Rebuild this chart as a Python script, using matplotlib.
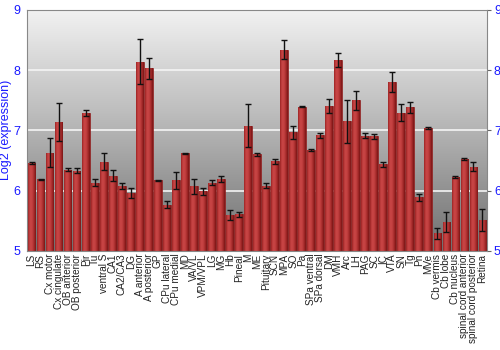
import numpy as np
import matplotlib
matplotlib.use("Agg")
import matplotlib.pyplot as plt
from matplotlib.colors import LinearSegmentedColormap

categories = ["LS", "RS", "Cx motor", "Cx cingulate", "OB anterior", "OB posterior", "Pir", "Tu",
              "ventral S", "CA1", "CA2/CA3", "DG", "A anterior", "A posterior", "GP", "CPu lateral",
              "CPu medial", "MD", "VA/VL", "VPM/VPL", "LG", "MG", "Hb", "Pineal", "M", "ME",
              "Pituitary", "SCN", "MPA", "SO", "Pa", "SPa ventral", "SPa dorsal", "DM", "VMH", "Arc",
              "LH", "PAG", "SC", "IC", "VTA", "SN", "Tg", "Pn", "MVe", "Cb vermis", "Cb lobe",
              "Cb nucleus", "spinal cord anterior", "spinal cord posterior", "Retina"]
values = [6.46, 6.19, 6.63, 7.14, 6.35, 6.33, 7.29, 6.13,
          6.48, 6.25, 6.08, 5.96, 8.14, 8.03, 6.17, 5.77,
          6.17, 6.62, 6.07, 5.99, 6.13, 6.20, 5.60, 5.61, 7.08, 6.60,
          6.08, 6.49, 8.34, 6.97, 7.39, 6.67, 6.92, 7.40, 8.17, 7.15,
          7.50, 6.91, 6.90, 6.44, 7.80, 7.29, 7.38, 5.89, 7.04, 5.29, 5.48,
          6.23, 6.53, 6.40, 5.51]
errors = [0.02, 0.01, 0.24, 0.31, 0.02, 0.04, 0.05, 0.06,
          0.14, 0.09, 0.05, 0.08, 0.37, 0.17, 0.01, 0.06,
          0.14, 0.01, 0.12, 0.06, 0.04, 0.05, 0.08, 0.04, 0.36, 0.03,
          0.04, 0.04, 0.16, 0.11, 0.01, 0.02, 0.04, 0.12, 0.12, 0.36,
          0.16, 0.04, 0.04, 0.04, 0.16, 0.14, 0.09, 0.06, 0.01, 0.09, 0.16,
          0.02, 0.02, 0.08, 0.18]
yticks = [5, 6, 7, 8, 9]

plt.rcParams['font.family'] = ['Liberation Sans', 'DejaVu Sans']

fig = plt.figure(figsize=(5, 3.5), dpi=100)
ax = fig.add_axes([0.054, 0.283, 0.920, 0.689])

# background gradient
bg = LinearSegmentedColormap.from_list("bg", ["#6f6f6f", "#b4b4b4", "#f2f2f2"])
grad = np.linspace(0, 1, 256).reshape(-1, 1)
ax.imshow(grad, cmap=bg, aspect="auto", extent=[0, 1, 0, 1], origin="lower",
          transform=ax.transAxes, zorder=0)

for y in [6, 7, 8]:
    ax.axhline(y, color="#f4f4f4", lw=1.2, zorder=1)

x = np.arange(len(categories))
bars = ax.bar(x, np.array(values) - 5, bottom=5, width=0.86, color="#b03030",
              edgecolor="#8a1c1c", linewidth=0.5, zorder=2)

bar_cmap = LinearSegmentedColormap.from_list(
    "bar", ["#9c2424", "#c84545", "#c54242", "#a82c2c", "#7a1515"])
hgrad = np.linspace(0, 1, 64).reshape(1, -1)
for b in bars:
    x0, y0 = b.get_x(), b.get_y()
    w, h = b.get_width(), b.get_height()
    im = ax.imshow(hgrad, cmap=bar_cmap, aspect="auto",
                   extent=[x0, x0 + w, y0, y0 + h], zorder=2.5)
    im.set_clip_path(b)

ax.errorbar(x, values, yerr=errors, fmt="none", ecolor="#111111", elinewidth=1,
            capsize=2, capthick=1, zorder=3)

ax.set_xlim(-0.5, len(categories) - 0.5)
ax.set_ylim(5, 9)
ax.set_yticks(yticks)
ax.set_xticks(x)
ax.set_xticklabels(categories, rotation=90, fontsize=7.2, color="#222222")
ax.tick_params(axis="x", length=0, pad=2)
ax.tick_params(axis="y", labelcolor="#1a1aff", labelsize=9, length=3,
               color="#666666", right=True, labelright=True, left=False, pad=2)
ax.set_ylabel("Log2 (expression)", color="#1a1aff", fontsize=9, labelpad=1)
for s in ax.spines.values():
    s.set_color("#888888")
    s.set_linewidth(0.8)

fig.savefig("out.png", dpi=100)
